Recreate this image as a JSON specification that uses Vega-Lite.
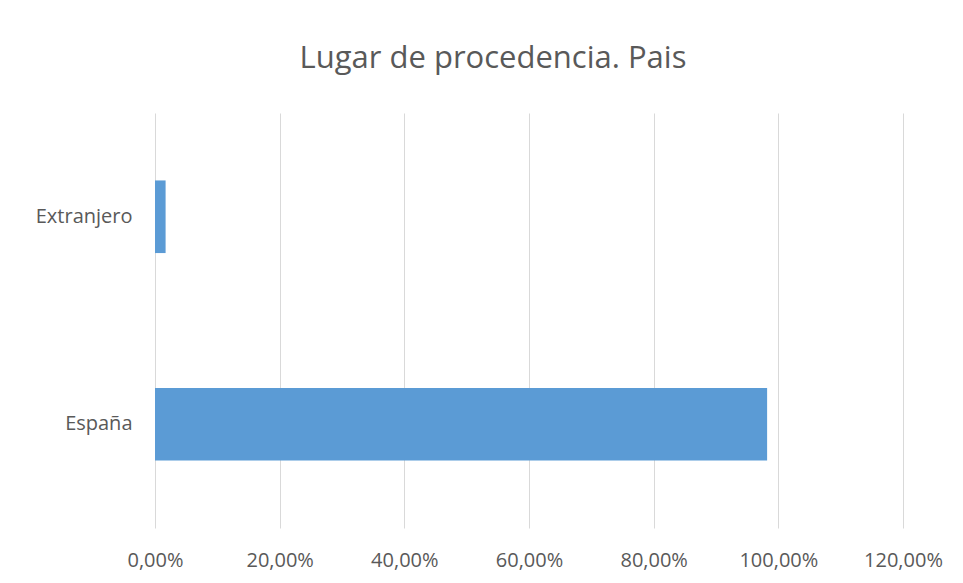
{
  "$schema": "https://vega.github.io/schema/vega-lite/v6.json",
  "autosize": "none",
  "width": 748,
  "height": 415,
  "padding": {"left": 155, "top": 113, "right": 60, "bottom": 55},
  "background": "white",
  "title": {
    "text": "Lugar de procedencia. Pais",
    "font": "Open Sans",
    "fontSize": 31,
    "fontWeight": "normal",
    "color": "#595959",
    "anchor": "middle",
    "frame": "group",
    "baseline": "alphabetic",
    "offset": 14,
    "dx": -36
  },
  "data": {
    "values": [
      {"pais": "Extranjero", "valor": 0.017},
      {"pais": "España", "valor": 0.982}
    ]
  },
  "mark": {"type": "bar", "color": "#5b9bd5"},
  "encoding": {
    "y": {
      "field": "pais",
      "type": "nominal",
      "sort": ["Extranjero", "España"],
      "scale": {"paddingInner": 0.65, "paddingOuter": 0.325},
      "axis": {
        "title": null,
        "domain": false,
        "ticks": false,
        "labelPadding": 23,
        "labelFont": "Open Sans",
        "labelFontSize": 20,
        "labelColor": "#595959"
      }
    },
    "x": {
      "field": "valor",
      "type": "quantitative",
      "scale": {"domain": [0, 1.2], "nice": false},
      "axis": {
        "title": null,
        "values": [0, 0.2, 0.4, 0.6, 0.8, 1.0, 1.2],
        "labelExpr": "replace(format(datum.value, '.2%'), '.', ',')",
        "domain": false,
        "ticks": false,
        "grid": true,
        "gridColor": "#d9d9d9",
        "gridWidth": 1,
        "labelPadding": 22,
        "labelFont": "Open Sans",
        "labelFontSize": 20,
        "labelColor": "#595959",
        "labelFlush": false,
        "labelOverlap": false
      }
    }
  },
  "config": {
    "view": {"stroke": null}
  }
}
